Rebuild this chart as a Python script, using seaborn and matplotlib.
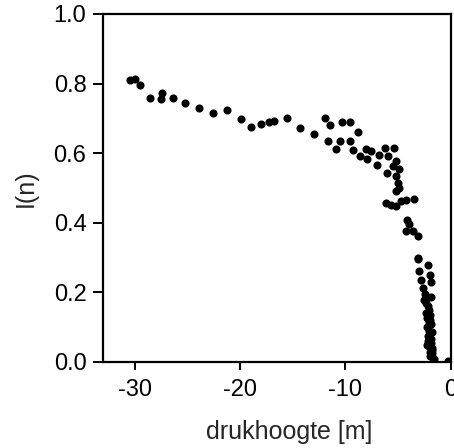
import matplotlib
matplotlib.use("Agg")
import matplotlib.pyplot as plt
import seaborn as sns
import pandas as pd

drukhoogte = [
    -30.45, -29.97, -29.5, -28.58, -27.44, -27.53, -26.39, -25.25, -23.89, -22.53,
    -21.23, -19.87, -18.92, -18.03, -17.25, -16.77, -15.54, -14.30, -12.97, -11.96,
    -11.45, -10.37, -9.58, -8.85, -11.70, -10.50, -9.58, -10.85, -9.27, -8.60,
    -8.06, -7.59, -7.97, -6.80, -7.05, -6.26, -5.38, -5.95, -5.21, -4.90,
    -5.53, -6.07, -5.21, -5.05, -5.21, -4.90, -6.16, -5.69, -5.21, -4.74,
    -4.26, -3.53, -4.17, -3.95, -4.26, -3.63, -3.15, -3.09, -3.09, -2.15,
    -3.00, -1.96, -2.84, -1.89, -2.68, -2.53, -1.89, -2.05, -2.40, -2.20,
    -2.35, -1.95, -2.30, -2.10, -1.90, -2.25, -2.05, -1.80, -2.20, -1.95,
    -2.15, -1.85, -2.05, -1.75, -2.00, -1.80, -1.95, -1.70, -1.64, -0.31,
    -2.45, -2.00, -1.85, -2.25, -1.75,
]
In = [
    0.810, 0.813, 0.797, 0.757, 0.774, 0.756, 0.759, 0.744, 0.729, 0.714,
    0.723, 0.699, 0.675, 0.685, 0.688, 0.691, 0.700, 0.671, 0.654, 0.700,
    0.680, 0.688, 0.688, 0.661, 0.635, 0.635, 0.636, 0.613, 0.609, 0.592,
    0.611, 0.606, 0.582, 0.595, 0.565, 0.616, 0.616, 0.592, 0.577, 0.553,
    0.563, 0.542, 0.534, 0.515, 0.491, 0.500, 0.457, 0.450, 0.448, 0.462,
    0.465, 0.467, 0.409, 0.395, 0.376, 0.376, 0.361, 0.299, 0.296, 0.280,
    0.260, 0.251, 0.236, 0.231, 0.212, 0.179, 0.188, 0.150, 0.170, 0.160,
    0.140, 0.135, 0.125, 0.115, 0.110, 0.100, 0.090, 0.085, 0.075, 0.070,
    0.060, 0.055, 0.045, 0.040, 0.030, 0.025, 0.018, 0.012, 0.008, 0.004,
    0.195, 0.120, 0.065, 0.050, 0.035,
]

df = pd.DataFrame({"drukhoogte": drukhoogte, "I(n)": In})

sns.set_style("ticks")
plt.rcParams["font.family"] = ["Liberation Sans", "DejaVu Sans"]

fig = plt.figure(figsize=(4.54, 4.48), dpi=100)
ax = fig.add_axes([0.227, 0.192, 0.766, 0.777])

sns.scatterplot(data=df, x="drukhoogte", y="I(n)", ax=ax, color="black",
                s=34, edgecolor="black", linewidth=0, legend=False)

ax.set_xlim(-33, 0)
ax.set_ylim(0, 1.0)
ax.set_xticks([-30, -20, -10, 0])
ax.set_xticklabels(["-30", "-20", "-10", "0"])
ax.set_yticks([0.0, 0.2, 0.4, 0.6, 0.8, 1.0])
ax.set_yticklabels(["0.0", "0.2", "0.4", "0.6", "0.8", "1.0"])
ax.set_xlabel("drukhoogte [m]", fontsize=18, labelpad=14)
ax.xaxis.label.set_x(0.535)
ax.set_ylabel("I(n)", fontsize=18, labelpad=11)
ax.tick_params(axis="both", labelsize=17, width=1.4, color="black",
               labelcolor="black", direction="out")
ax.tick_params(axis="x", length=6, pad=6)
ax.tick_params(axis="y", length=7, pad=5)
for sp in ax.spines.values():
    sp.set_visible(True)
    sp.set_linewidth(1.6)
    sp.set_color("black")

fig.savefig("out.png", dpi=100)
